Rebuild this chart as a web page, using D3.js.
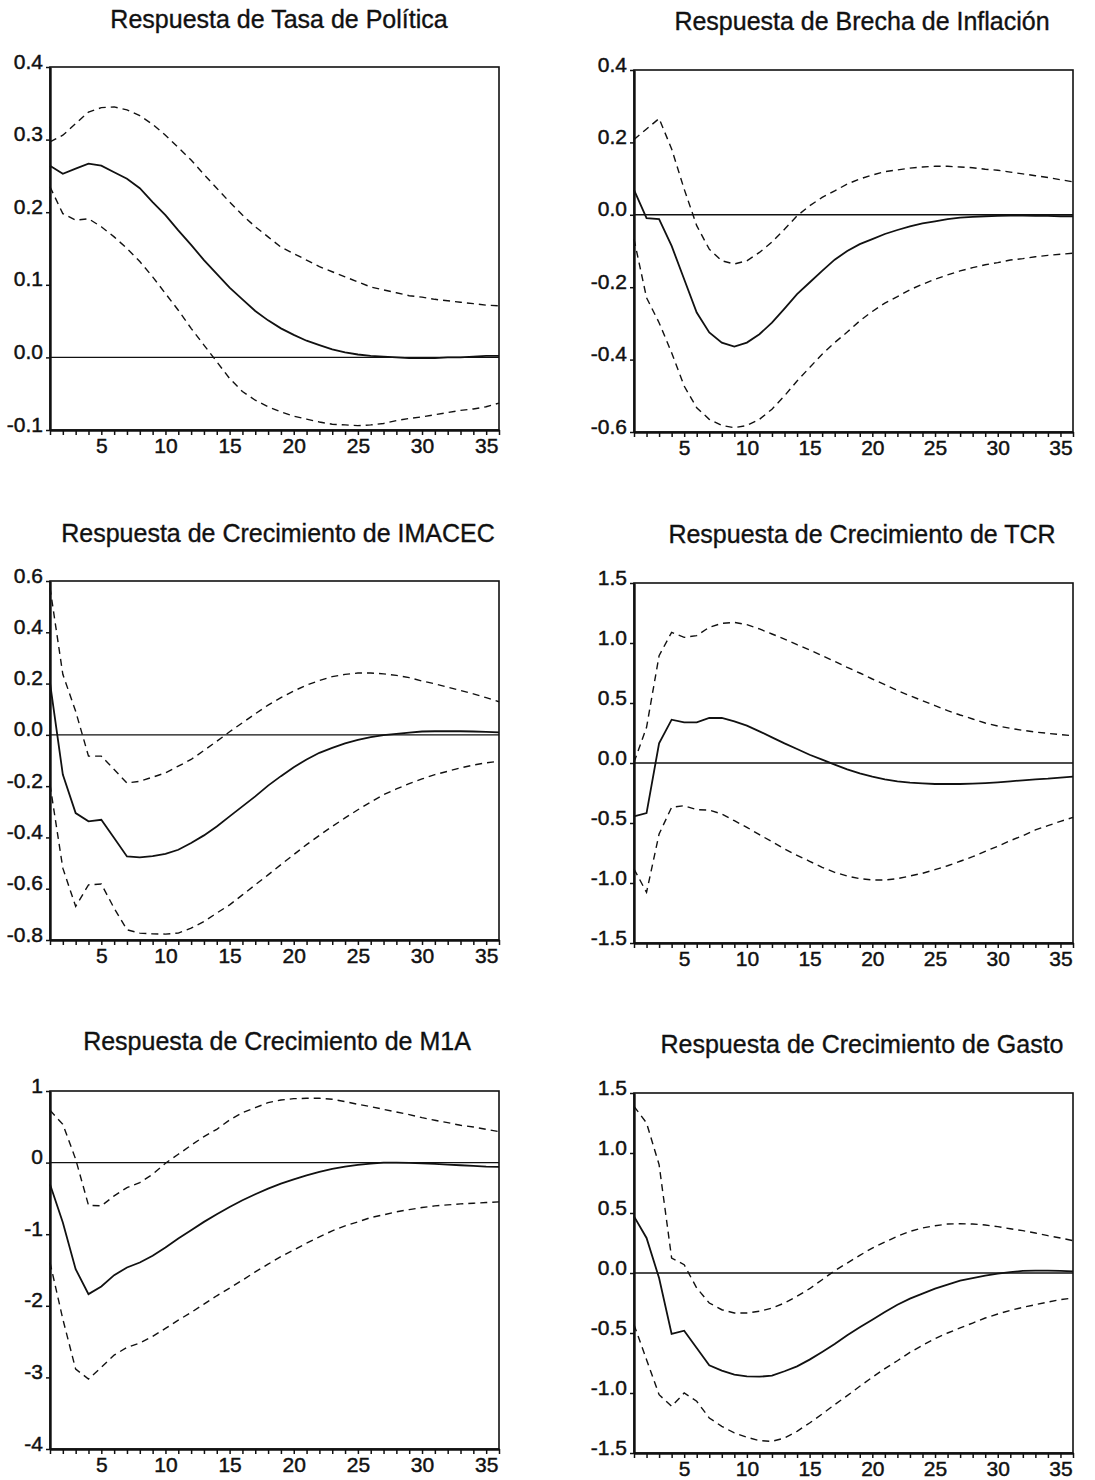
<!DOCTYPE html>
<html>
<head>
<meta charset="utf-8">
<script src="https://cdn.jsdelivr.net/npm/d3@7"></script>
<style>
  body { margin: 0; background: #fff; }
  svg { display: block; font-family: "Liberation Sans", Arial, sans-serif; }
  .tick text { fill: #111; stroke: #111; stroke-width: 0.45px; }
  .title { stroke: #111; stroke-width: 0.35px; }
</style>
</head>
<body>
<div id="chart"></div>
<script>
// Horizon (periods after the shock)
const periods = [1, 2, 3, 4, 5, 6, 7, 8, 9, 10, 11, 12, 13, 14, 15, 16, 17, 18,
                 19, 20, 21, 22, 23, 24, 25, 26, 27, 28, 29, 30, 31, 32, 33, 34, 35, 36];
const xTickLabels = [5, 10, 15, 20, 25, 30, 35];

const titles = [
    'Respuesta de Tasa de Política',
    'Respuesta de Brecha de Inflación',
    'Respuesta de Crecimiento de IMACEC',
    'Respuesta de Crecimiento de TCR',
    'Respuesta de Crecimiento de M1A',
    'Respuesta de Crecimiento de Gasto'
];

// y tick labels per panel
const tasaTicks = [-0.1, 0.0, 0.1, 0.2, 0.3, 0.4];
const brechaTicks = [-0.6, -0.4, -0.2, 0.0, 0.2, 0.4];
const imacecTicks = [-0.8, -0.6, -0.4, -0.2, 0.0, 0.2, 0.4, 0.6];
const tcrTicks = [-1.5, -1.0, -0.5, 0.0, 0.5, 1.0, 1.5];
const m1aTicks = [-4, -3, -2, -1, 0, 1];
const gastoTicks = [-1.5, -1.0, -0.5, 0.0, 0.5, 1.0, 1.5];

// Tasa de Política
const tasaResp = [0.264, 0.253, 0.260, 0.267, 0.264, 0.255, 0.246, 0.233, 0.214, 0.196, 0.175, 0.155, 0.134, 0.115, 0.096, 0.080, 0.064, 0.051,
                  0.040, 0.031, 0.023, 0.017, 0.011, 0.007, 0.004, 0.002, 0.001, 0.000, -0.001, -0.001, -0.001, 0.000, 0.000, 0.001, 0.002, 0.002];
const tasaUpper = [0.297, 0.306, 0.322, 0.338, 0.344, 0.345, 0.341, 0.333, 0.321, 0.306, 0.289, 0.272, 0.252, 0.233, 0.214, 0.196, 0.180, 0.166,
                   0.152, 0.143, 0.134, 0.125, 0.118, 0.111, 0.104, 0.097, 0.093, 0.089, 0.085, 0.083, 0.080, 0.078, 0.076, 0.074, 0.072, 0.071];
const tasaLower = [0.235, 0.198, 0.189, 0.191, 0.180, 0.166, 0.150, 0.132, 0.111, 0.088, 0.065, 0.040, 0.017, -0.006, -0.029, -0.047, -0.059, -0.068,
                   -0.075, -0.081, -0.085, -0.089, -0.092, -0.093, -0.094, -0.093, -0.091, -0.087, -0.084, -0.082, -0.079, -0.076, -0.073, -0.071, -0.068, -0.063];

// Brecha de Inflación
const brechaResp = [0.069, -0.009, -0.012, -0.086, -0.178, -0.270, -0.325, -0.353, -0.364, -0.353, -0.330, -0.298, -0.259, -0.219, -0.187, -0.155, -0.124, -0.100,
                    -0.081, -0.067, -0.053, -0.042, -0.032, -0.024, -0.018, -0.012, -0.008, -0.006, -0.004, -0.003, -0.002, -0.002, -0.003, -0.003, -0.004, -0.004];
const brechaUpper = [0.208, 0.237, 0.266, 0.182, 0.071, -0.030, -0.095, -0.127, -0.136, -0.127, -0.104, -0.075, -0.040, -0.003, 0.025, 0.048, 0.066, 0.085,
                     0.099, 0.110, 0.119, 0.124, 0.129, 0.132, 0.134, 0.134, 0.132, 0.130, 0.126, 0.123, 0.118, 0.113, 0.108, 0.103, 0.097, 0.091];
const brechaLower = [-0.067, -0.229, -0.298, -0.381, -0.473, -0.533, -0.565, -0.582, -0.588, -0.582, -0.565, -0.537, -0.500, -0.459, -0.422, -0.385, -0.353, -0.324,
                     -0.293, -0.267, -0.244, -0.226, -0.207, -0.192, -0.178, -0.166, -0.155, -0.146, -0.138, -0.132, -0.125, -0.121, -0.116, -0.112, -0.109, -0.106];

// Crecimiento de IMACEC
const imacecResp = [0.203, -0.155, -0.305, -0.337, -0.331, -0.402, -0.474, -0.478, -0.473, -0.464, -0.448, -0.422, -0.392, -0.357, -0.318, -0.279, -0.240, -0.198,
                    -0.161, -0.126, -0.096, -0.070, -0.051, -0.033, -0.020, -0.009, -0.001, 0.004, 0.009, 0.013, 0.014, 0.014, 0.014, 0.013, 0.012, 0.010];
const imacecUpper = [0.574, 0.236, 0.092, -0.083, -0.083, -0.135, -0.188, -0.181, -0.165, -0.148, -0.122, -0.096, -0.061, -0.025, 0.012, 0.047, 0.082, 0.116,
                     0.145, 0.171, 0.194, 0.212, 0.227, 0.236, 0.241, 0.241, 0.238, 0.232, 0.223, 0.210, 0.199, 0.186, 0.173, 0.160, 0.145, 0.129];
const imacecLower = [-0.194, -0.520, -0.669, -0.585, -0.582, -0.676, -0.760, -0.773, -0.776, -0.777, -0.773, -0.754, -0.728, -0.695, -0.663, -0.624, -0.585, -0.546,
                     -0.506, -0.467, -0.428, -0.392, -0.357, -0.324, -0.292, -0.262, -0.233, -0.211, -0.190, -0.172, -0.155, -0.142, -0.129, -0.118, -0.109, -0.103];

// Crecimiento de TCR
const tcrResp = [-0.444, -0.417, 0.164, 0.361, 0.339, 0.339, 0.375, 0.375, 0.347, 0.311, 0.264, 0.214, 0.164, 0.117, 0.069, 0.028, -0.014, -0.053,
                 -0.086, -0.114, -0.136, -0.153, -0.164, -0.169, -0.175, -0.175, -0.175, -0.172, -0.167, -0.161, -0.153, -0.144, -0.136, -0.131, -0.122, -0.114];
const tcrUpper = [0.006, 0.297, 0.894, 1.089, 1.047, 1.061, 1.131, 1.164, 1.172, 1.153, 1.117, 1.075, 1.033, 0.986, 0.942, 0.894, 0.847, 0.797,
                  0.750, 0.700, 0.653, 0.603, 0.561, 0.519, 0.478, 0.436, 0.400, 0.367, 0.333, 0.308, 0.289, 0.272, 0.258, 0.247, 0.236, 0.228];
const tcrLower = [-0.883, -1.078, -0.592, -0.369, -0.356, -0.389, -0.392, -0.425, -0.481, -0.536, -0.597, -0.656, -0.717, -0.769, -0.819, -0.869, -0.911, -0.942,
                  -0.964, -0.975, -0.975, -0.964, -0.942, -0.919, -0.889, -0.856, -0.819, -0.781, -0.736, -0.694, -0.647, -0.606, -0.558, -0.522, -0.486, -0.453];

// Crecimiento de M1A
const m1aResp = [-0.302, -0.837, -1.488, -1.837, -1.730, -1.572, -1.465, -1.395, -1.302, -1.186, -1.060, -0.944, -0.828, -0.721, -0.619, -0.526, -0.442, -0.363,
                 -0.293, -0.233, -0.177, -0.130, -0.088, -0.056, -0.033, -0.014, 0.000, 0.000, -0.005, -0.009, -0.019, -0.028, -0.037, -0.047, -0.056, -0.060];
const m1aUpper = [0.730, 0.535, 0.047, -0.595, -0.605, -0.465, -0.349, -0.279, -0.163, -0.009, 0.116, 0.242, 0.363, 0.465, 0.595, 0.698, 0.767, 0.837,
                  0.874, 0.893, 0.898, 0.898, 0.884, 0.851, 0.814, 0.781, 0.744, 0.707, 0.670, 0.628, 0.591, 0.558, 0.521, 0.498, 0.465, 0.433];
const m1aLower = [-1.395, -2.186, -2.884, -3.023, -2.860, -2.688, -2.581, -2.521, -2.428, -2.316, -2.200, -2.093, -1.977, -1.860, -1.753, -1.642, -1.526, -1.419,
                  -1.312, -1.219, -1.126, -1.037, -0.953, -0.884, -0.828, -0.767, -0.730, -0.688, -0.656, -0.628, -0.605, -0.591, -0.577, -0.567, -0.558, -0.549];

// Crecimiento de Gasto
const gastoResp = [0.472, 0.292, -0.042, -0.508, -0.481, -0.625, -0.769, -0.814, -0.847, -0.861, -0.864, -0.856, -0.819, -0.778, -0.722, -0.658, -0.592, -0.519,
                   -0.453, -0.389, -0.325, -0.264, -0.214, -0.172, -0.131, -0.097, -0.064, -0.042, -0.022, -0.006, 0.008, 0.017, 0.019, 0.019, 0.017, 0.014];
const gastoUpper = [1.389, 1.250, 0.903, 0.125, 0.069, -0.125, -0.250, -0.306, -0.333, -0.333, -0.319, -0.292, -0.250, -0.194, -0.131, -0.056, 0.019, 0.083,
                    0.147, 0.208, 0.258, 0.306, 0.347, 0.375, 0.394, 0.408, 0.411, 0.408, 0.400, 0.386, 0.369, 0.353, 0.333, 0.311, 0.292, 0.269];
const gastoLower = [-0.431, -0.722, -1.014, -1.111, -1.000, -1.069, -1.208, -1.278, -1.333, -1.369, -1.397, -1.403, -1.375, -1.319, -1.250, -1.175, -1.097, -1.022,
                    -0.944, -0.869, -0.797, -0.731, -0.661, -0.603, -0.547, -0.500, -0.458, -0.417, -0.375, -0.342, -0.311, -0.286, -0.264, -0.242, -0.222, -0.208];

// Panel placement (pixels) and series wiring
const fmt1 = d => d.toFixed(1);
const fmt0 = d => d.toFixed(0);
const panels = [
    { title: titles[0], resp: tasaResp, upper: tasaUpper, lower: tasaLower, ticks: tasaTicks, fmt: fmt1,
      left: 50, right: 499, top: 67, bottom: 430, titleX: 279, titleY: 28 },
    { title: titles[1], resp: brechaResp, upper: brechaUpper, lower: brechaLower, ticks: brechaTicks, fmt: fmt1,
      left: 634, right: 1073, top: 70, bottom: 432, titleX: 862, titleY: 30 },
    { title: titles[2], resp: imacecResp, upper: imacecUpper, lower: imacecLower, ticks: imacecTicks, fmt: fmt1,
      left: 50, right: 499, top: 581, bottom: 940, titleX: 278, titleY: 542 },
    { title: titles[3], resp: tcrResp, upper: tcrUpper, lower: tcrLower, ticks: tcrTicks, fmt: fmt1,
      left: 634, right: 1073, top: 583, bottom: 943, titleX: 862, titleY: 543 },
    { title: titles[4], resp: m1aResp, upper: m1aUpper, lower: m1aLower, ticks: m1aTicks, fmt: fmt0,
      left: 50, right: 499, top: 1091, bottom: 1449, titleX: 277, titleY: 1050 },
    { title: titles[5], resp: gastoResp, upper: gastoUpper, lower: gastoLower, ticks: gastoTicks, fmt: fmt1,
      left: 634, right: 1073, top: 1093, bottom: 1453, titleX: 862, titleY: 1053 }
];

const svg = d3.select('#chart')
    .append('svg')
    .attr('width', 1095)
    .attr('height', 1480);

svg.append('rect').attr('width', 1095).attr('height', 1480).attr('fill', '#fff');

panels.forEach(p => {
    const g = svg.append('g');

    const x = d3.scaleLinear()
        .domain([periods[0], periods[periods.length - 1]])
        .range([p.left, p.right]);
    const y = d3.scaleLinear()
        .domain([p.ticks[0], p.ticks[p.ticks.length - 1]])
        .range([p.bottom, p.top]);

    // title
    g.append('text')
        .attr('class', 'title')
        .attr('x', p.titleX)
        .attr('y', p.titleY)
        .attr('text-anchor', 'middle')
        .attr('font-size', '25px')
        .attr('fill', '#111')
        .text(p.title);

    // frame
    g.append('rect')
        .attr('x', p.left)
        .attr('y', p.top)
        .attr('width', p.right - p.left)
        .attr('height', p.bottom - p.top)
        .attr('fill', 'none')
        .attr('stroke', '#111')
        .attr('stroke-width', 1.6);

    // x axis: a tick every period, labels every 5
    const xAxis = g.append('g')
        .attr('transform', `translate(0, ${p.bottom})`)
        .call(d3.axisBottom(x)
            .tickValues(periods)
            .tickSizeInner(5)
            .tickSizeOuter(0)
            .tickFormat(d => xTickLabels.includes(d) ? d : ''));
    xAxis.select('.domain').attr('stroke-width', 2.4).attr('stroke', '#111');
    xAxis.selectAll('.tick line').attr('stroke', '#111').attr('stroke-width', 1.5);
    xAxis.selectAll('.tick text').attr('font-size', '21px').attr('font-family', '"Liberation Sans", Arial, sans-serif');

    // y axis
    const yAxis = g.append('g')
        .attr('transform', `translate(${p.left}, 0)`)
        .call(d3.axisLeft(y)
            .tickValues(p.ticks)
            .tickSizeInner(4)
            .tickSizeOuter(0)
            .tickPadding(3)
            .tickFormat(p.fmt));
    yAxis.select('.domain').attr('stroke-width', 2.4).attr('stroke', '#111');
    yAxis.selectAll('.tick line').attr('stroke', '#111').attr('stroke-width', 1.5);
    yAxis.selectAll('.tick text')
        .attr('font-size', '21px')
        .attr('font-family', '"Liberation Sans", Arial, sans-serif')
        .attr('dy', '0.05em');

    // zero line
    g.append('line')
        .attr('x1', p.left)
        .attr('x2', p.right)
        .attr('y1', y(0))
        .attr('y2', y(0))
        .attr('stroke', '#111')
        .attr('stroke-width', 1.4);

    const line = d3.line()
        .x((d, i) => x(periods[i]))
        .y(d => y(d));

    // confidence bands
    [p.upper, p.lower].forEach(band => {
        g.append('path')
            .datum(band)
            .attr('fill', 'none')
            .attr('stroke', '#111')
            .attr('stroke-width', 1.4)
            .attr('stroke-dasharray', '7,5')
            .attr('d', line);
    });

    // impulse response
    g.append('path')
        .datum(p.resp)
        .attr('fill', 'none')
        .attr('stroke', '#111')
        .attr('stroke-width', 1.8)
        .attr('d', line);
});
</script>
</body>
</html>
